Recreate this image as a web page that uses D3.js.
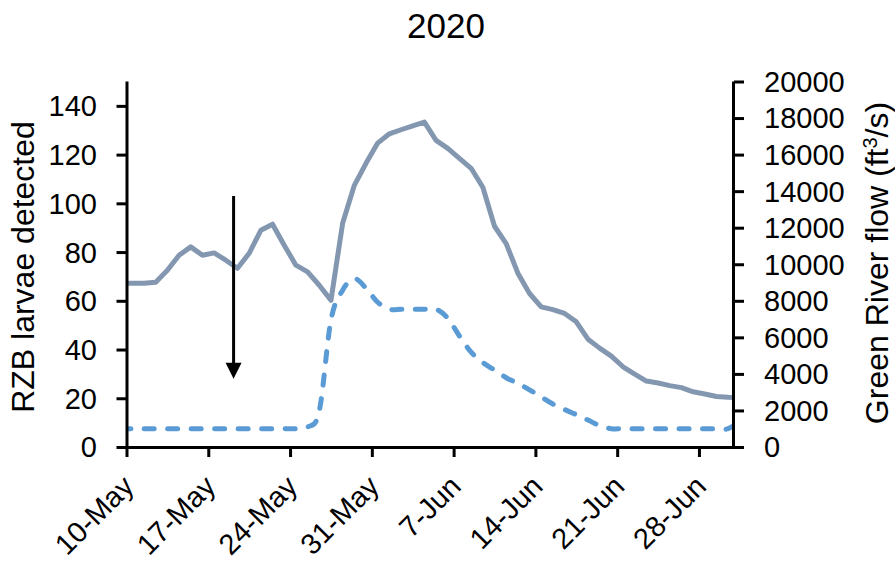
<!DOCTYPE html>
<html>
<head>
<meta charset="utf-8">
<script src="https://cdn.jsdelivr.net/npm/d3@7"></script>
<style>
  html, body { margin: 0; padding: 0; background: #fff; }
  svg { display: block; font-family: "Liberation Sans", Arial, sans-serif; }
</style>
</head>
<body>
<svg id="chart" width="895" height="561"></svg>
<script>
// Daily series, 9 May – 1 Jul 2020 (values plotted at mid-day)
const dates = d3.range(54).map(i => new Date(2020, 4, 9 + i, 12));

// Green River flow, ft³/s (solid line)
const riverFlow = [
  8960, 8960, 8960, 9020, 9670, 10490, 10950, 10490, 10620, 10220, 9780, 10600,
  11860, 12190, 11040, 9950, 9580, 8850, 8030, 12240, 14320, 15520, 16630,
  17140, 17360, 17570, 17780, 16780, 16340, 15790, 15250, 14210, 12080, 11130,
  9510, 8400, 7670, 7520, 7310, 6850, 5900, 5410, 4970, 4390, 3990, 3610, 3500,
  3360, 3250, 3020, 2900, 2760, 2720, 2700
];

// Reservoir release, ft³/s (dashed line)
const releaseFlow = [
  1000, 1000, 1000, 1000, 1000, 1000, 1000, 1000, 1000, 1000, 1000, 1000,
  1000, 1000, 1000, 1000, 1090, 1970, 6940, 8580, 9210, 8690, 7920,
  7540, 7540, 7540, 7540, 7540, 7050, 6070, 5190, 4620, 4210, 3790, 3480,
  3130, 2740, 2350, 2050, 1770, 1475, 1170, 1000, 1000, 1000, 1000, 1000,
  1000, 1000, 1000, 1000, 1000, 1000, 1400
];

// Axis ticks
const xTickDates = [
  new Date(2020, 4, 10), new Date(2020, 4, 17), new Date(2020, 4, 24), new Date(2020, 4, 31),
  new Date(2020, 5, 7), new Date(2020, 5, 14), new Date(2020, 5, 21), new Date(2020, 5, 28)
];
const leftTicks = [0, 20, 40, 60, 80, 100, 120, 140];
const rightTicks = d3.range(0, 20001, 2000);

// First larvae detection marker (left-axis units)
const arrowDate = new Date(2020, 4, 19, 4);
const arrowTop = 103;
const arrowTip = 28;

const svg = d3.select("#chart");
const plot = { left: 126.5, right: 734, top: 81.5, bottom: 447 };

const x = d3.scaleTime()
  .domain([new Date(2020, 4, 10), new Date(2020, 6, 1)])
  .range([plot.left, plot.right]);
const yLeft = d3.scaleLinear().domain([0, 150]).range([plot.bottom, plot.top]);
const yRight = d3.scaleLinear().domain([0, 20000]).range([plot.bottom, plot.top]);

svg.append("defs").append("clipPath").attr("id", "plotClip")
  .append("rect")
  .attr("x", plot.left).attr("y", 0)
  .attr("width", plot.right - plot.left).attr("height", 561);

const lines = svg.append("g").attr("clip-path", "url(#plotClip)");

const flowLine = d3.line()
  .x((d, i) => x(dates[i]))
  .y(d => yRight(d));

lines.append("path")
  .datum(riverFlow)
  .attr("d", flowLine)
  .attr("fill", "none")
  .attr("stroke", "#8497B0")
  .attr("stroke-width", 5)
  .attr("stroke-linejoin", "round");

lines.append("path")
  .datum(releaseFlow)
  .attr("d", flowLine.curve(d3.curveCatmullRom.alpha(0)))
  .attr("fill", "none")
  .attr("stroke", "#5B9BD5")
  .attr("stroke-width", 5)
  .attr("stroke-linecap", "round")
  .attr("stroke-dasharray", "10 13.5");

// Axes
const tickFont = "29px";

const gx = svg.append("g").attr("transform", `translate(0,${plot.bottom})`)
  .call(d3.axisBottom(x).tickValues(xTickDates).tickSize(10).tickFormat(""));
const gl = svg.append("g").attr("transform", `translate(${plot.left},0)`)
  .call(d3.axisLeft(yLeft).tickValues(leftTicks).tickSize(10).tickFormat(""));
const gr = svg.append("g").attr("transform", `translate(${plot.right},0)`)
  .call(d3.axisRight(yRight).tickValues(rightTicks).tickSize(10).tickFormat(""));

[gx, gl, gr].forEach(g => {
  g.select(".domain").attr("stroke", "#000").attr("stroke-width", 3);
  g.selectAll(".tick line").attr("stroke", "#000").attr("stroke-width", 3);
});
gx.select(".domain").attr("d", `M${plot.left - 1.5},0.5H${plot.right + 1.5}`);
gl.select(".domain").attr("d", `M0.5,${plot.top}V${plot.bottom + 1.5}`);
gr.select(".domain").attr("d", `M-0.5,${plot.top}V${plot.bottom + 1.5}`);

// Tick labels
svg.append("g").selectAll("text")
  .data(leftTicks).join("text")
  .attr("x", 97).attr("y", d => yLeft(d))
  .attr("dy", "0.36em")
  .attr("text-anchor", "end")
  .attr("font-size", tickFont)
  .text(d => d);

svg.append("g").selectAll("text")
  .data(rightTicks).join("text")
  .attr("x", 764).attr("y", d => yRight(d))
  .attr("dy", "0.36em")
  .attr("font-size", tickFont)
  .text(d => d);

const fmt = d3.timeFormat("%-d-%b");
svg.append("g").selectAll("text")
  .data(xTickDates).join("text")
  .attr("transform", d => `translate(${x(d) + 9},488) rotate(-45)`)
  .attr("text-anchor", "end")
  .attr("font-size", tickFont)
  .text(d => fmt(d));

// Titles
svg.append("text")
  .attr("x", 446).attr("y", 38)
  .attr("text-anchor", "middle")
  .attr("font-size", "35px")
  .text("2020");

svg.append("text")
  .attr("transform", "translate(34,267) rotate(-90)")
  .attr("text-anchor", "middle")
  .attr("font-size", "32px")
  .text("RZB larvae detected");

const rl = svg.append("text")
  .attr("transform", "translate(888,263) rotate(-90)")
  .attr("text-anchor", "middle")
  .attr("font-size", "32px");
rl.append("tspan").text("Green River flow (ft");
rl.append("tspan").attr("baseline-shift", "super").attr("font-size", "20px").text("3");
rl.append("tspan").text("/s)");

// Arrow marking first larvae detection
const ax = x(arrowDate);
const headH = 16, headW = 16;
svg.append("line")
  .attr("x1", ax).attr("x2", ax)
  .attr("y1", yLeft(arrowTop)).attr("y2", yLeft(arrowTip) - headH + 2)
  .attr("stroke", "#000").attr("stroke-width", 3);
svg.append("path")
  .attr("d", d3.line()([
    [ax - headW / 2, yLeft(arrowTip) - headH],
    [ax + headW / 2, yLeft(arrowTip) - headH],
    [ax, yLeft(arrowTip)]
  ]) + "Z")
  .attr("fill", "#000");
</script>
</body>
</html>
